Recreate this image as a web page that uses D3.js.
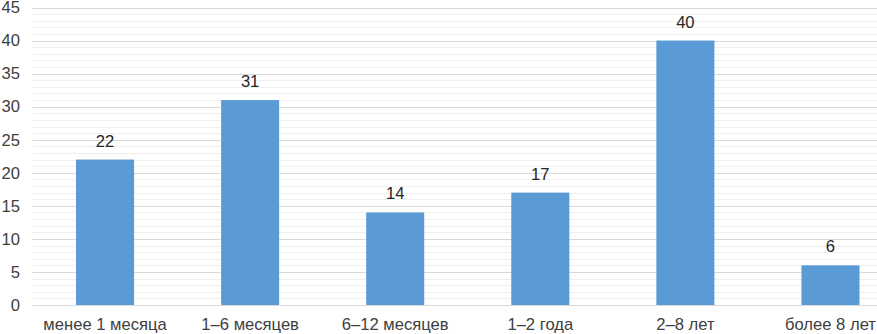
<!DOCTYPE html>
<html>
<head>
<meta charset="utf-8">
<script src="https://cdn.jsdelivr.net/npm/d3@7"></script>
<style>
  html, body { margin: 0; padding: 0; background: #fff; }
  svg { display: block; font-family: "Liberation Sans", Arial, sans-serif; }
</style>
</head>
<body>
<div id="chart"></div>
<script>
const CATEGORIES = ["менее 1 месяца", "1–6 месяцев", "6–12 месяцев", "1–2 года", "2–8 лет", "более 8 лет"];
const VALUES = [22, 31, 14, 17, 40, 6];
const Y_TICKS = [0, 5, 10, 15, 20, 25, 30, 35, 40, 45];
const Y_MINOR = d3.range(0, 46, 1);

const width = 877;
const height = 334;
const fontSize = 16.6;

const svg = d3.select("#chart").append("svg")
  .attr("width", width)
  .attr("height", height);

const x = d3.scaleBand().domain(CATEGORIES).range([32.5, 903]).paddingInner(0.6).paddingOuter(0.3);
const y = d3.scaleLinear().domain([0, 45]).range([305, 7.5]);

// minor gridlines
svg.append("g")
  .selectAll("line")
  .data(Y_MINOR.filter((v) => v % 5 !== 0))
  .join("line")
  .attr("x1", 32.5)
  .attr("x2", width)
  .attr("y1", (d) => Math.round(y(d)) + 0.5)
  .attr("y2", (d) => Math.round(y(d)) + 0.5)
  .attr("stroke", "#efefef");

// major gridlines
svg.append("g")
  .selectAll("line")
  .data(Y_TICKS)
  .join("line")
  .attr("x1", 32.5)
  .attr("x2", width)
  .attr("y1", (d) => Math.round(y(d)) + 0.5)
  .attr("y2", (d) => Math.round(y(d)) + 0.5)
  .attr("stroke", "#d9d9d9");

svg.append("g")
  .attr("transform", "translate(20, 0)")
  .call(d3.axisLeft(y).tickValues(Y_TICKS).tickSize(0).tickPadding(0))
  .call((g) => g.select(".domain").remove())
  .call((g) => g.selectAll("text")
    .attr("font-size", fontSize)
    .attr("font-family", "Liberation Sans, Arial, sans-serif")
    .attr("fill", "#404040"));

svg.append("g")
  .attr("transform", `translate(0, ${y(0)})`)
  .call(d3.axisBottom(x).tickSize(0).tickPadding(13))
  .call((g) => g.select(".domain").remove())
  .call((g) => g.selectAll("text")
    .attr("font-size", fontSize)
    .attr("font-family", "Liberation Sans, Arial, sans-serif")
    .attr("fill", "#404040"));

svg.append("g")
  .selectAll("rect")
  .data(VALUES)
  .join("rect")
  .attr("x", (d, i) => x(CATEGORIES[i]))
  .attr("y", (d) => y(d))
  .attr("width", x.bandwidth())
  .attr("height", (d) => y(0) - y(d))
  .attr("fill", "#5b9bd5");

svg.append("g")
  .selectAll("text")
  .data(VALUES)
  .join("text")
  .attr("x", (d, i) => x(CATEGORIES[i]) + x.bandwidth() / 2)
  .attr("y", (d) => y(d) - 13)
  .attr("text-anchor", "middle")
  .attr("font-size", fontSize)
  .attr("fill", "#262626")
  .text((d) => d);
</script>
</body>
</html>
